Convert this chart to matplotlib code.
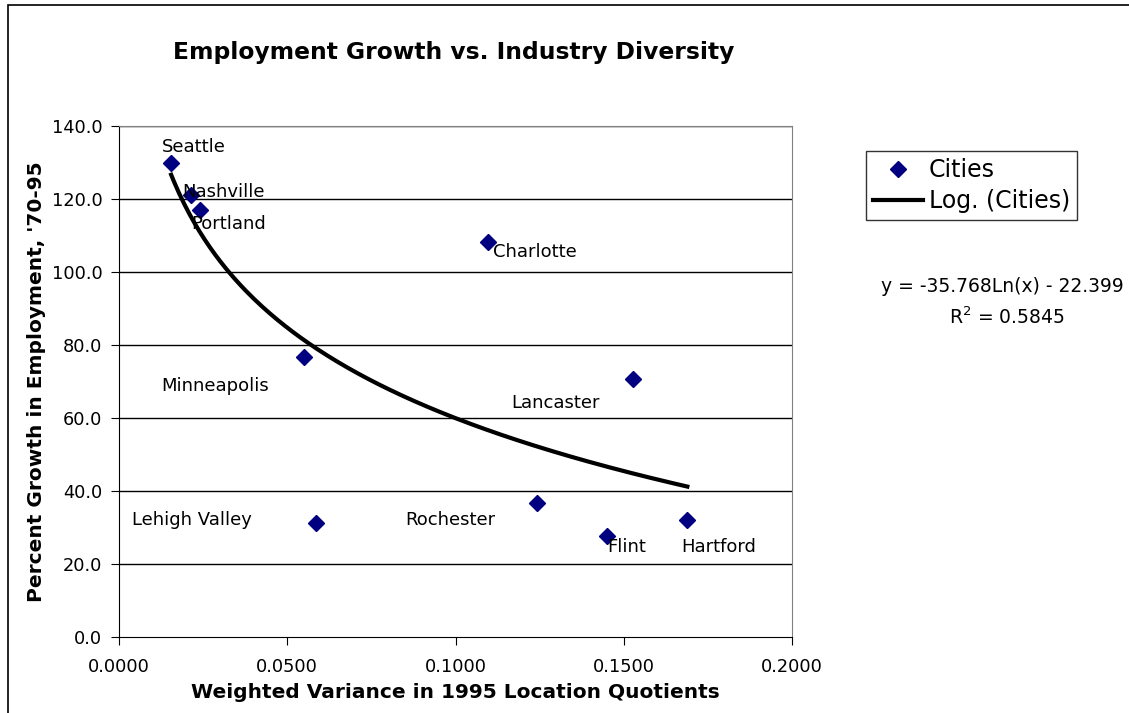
import numpy as np
import matplotlib
matplotlib.use('Agg')
import matplotlib.pyplot as plt
from matplotlib.patches import Rectangle

plt.rcParams['font.family'] = ['DejaVu Sans']

# city data
cities = ['Seattle', 'Nashville', 'Portland', 'Charlotte', 'Minneapolis',
          'Lancaster', 'Lehigh Valley', 'Rochester', 'Flint', 'Hartford']
variance = [0.0155, 0.0215, 0.0241, 0.1098, 0.0551,
            0.1527, 0.0586, 0.1241, 0.1450, 0.1689]
growth = [129.9, 121.1, 117.0, 108.2, 76.6,
          70.8, 31.2, 36.8, 27.6, 32.0]

# where each data label was dragged to (data coords, left edge / centre)
label_x = [0.0128, 0.0188, 0.0214, 0.1110, 0.0125,
           0.1165, 0.0039, 0.0850, 0.1450, 0.1670]
label_y = [134.2, 121.9, 113.2, 105.5, 68.8,
           64.1, 32.0, 32.0, 24.6, 24.6]

# logarithmic trendline as shown on the chart
coef_a = -35.768
coef_b = -22.399
r_squared = 0.5845

xticks = [0.0, 0.05, 0.10, 0.15, 0.20]
yticks = [0, 20, 40, 60, 80, 100, 120, 140]

fig = plt.figure(figsize=(11.29, 7.13), dpi=100)
fig.patches.append(Rectangle((8 / 1129, -0.1), 1.2, 1.1 - 5 / 713,
                             transform=fig.transFigure, fill=False,
                             edgecolor='black', lw=1.2))

ax = fig.add_axes([119 / 1129, 76 / 713, 673 / 1129, 511 / 713])
ax.set_xlim(0, 0.2)
ax.set_ylim(0, 140)

for y in yticks[1:]:
    ax.axhline(y, color='black', lw=1, zorder=1)

xt = np.linspace(min(variance), max(variance), 200)
trend, = ax.plot(xt, coef_a * np.log(xt) + coef_b, '-', color='black', lw=3,
                 zorder=2, label='Log. (Cities)')
pts, = ax.plot(variance, growth, 'D', color='#000080', markersize=8,
               linestyle='none', zorder=3, label='Cities')

for name, lx, ly in zip(cities, label_x, label_y):
    ax.text(lx, ly, name, fontsize=13, ha='left', va='center', zorder=4)

ax.set_xticks(xticks)
ax.set_xticklabels(['%.4f' % v for v in xticks])
ax.set_yticks(yticks)
ax.set_yticklabels(['%.1f' % v for v in yticks])
ax.tick_params(direction='out', length=6, labelsize=12.8, color='black')
ax.tick_params(axis='x', pad=9)
ax.tick_params(axis='y', pad=6)
ax.spines['left'].set_color('black')
ax.spines['bottom'].set_color('black')
ax.spines['top'].set_color('#808080')
ax.spines['right'].set_color('#808080')

ax.set_xlabel('Weighted Variance in 1995 Location Quotients',
              fontsize=14.5, fontweight='bold', labelpad=5)
ax.set_ylabel("Percent Growth in Employment, '70-95",
              fontsize=14.5, fontweight='bold', labelpad=4)

fig.text(454 / 1129, 1 - 52 / 713, 'Employment Growth vs. Industry Diversity',
         fontsize=16.8, fontweight='bold', ha='center', va='center')

leg = fig.legend(handles=[pts, trend], loc='upper left',
                 bbox_to_anchor=(866 / 1129, 1 - 151 / 713),
                 fontsize=17, frameon=True, fancybox=False, edgecolor='black',
                 handlelength=2.1, handletextpad=0.25, borderpad=0.3,
                 labelspacing=0.3, borderaxespad=0)
leg.get_frame().set_linewidth(1)

# trendline label; kept just inside the right edge
fig.text(1002 / 1129, 1 - 287 / 713,
         'y = -35.768Ln(x) - 22.399', fontsize=13.5, ha='center', va='center')
fig.text(1007 / 1129, 1 - 317 / 713,
         '$\\mathregular{R^2}$ = %.4f' % r_squared, fontsize=13.5,
         ha='center', va='center')

fig.savefig('out.png', dpi=100)
